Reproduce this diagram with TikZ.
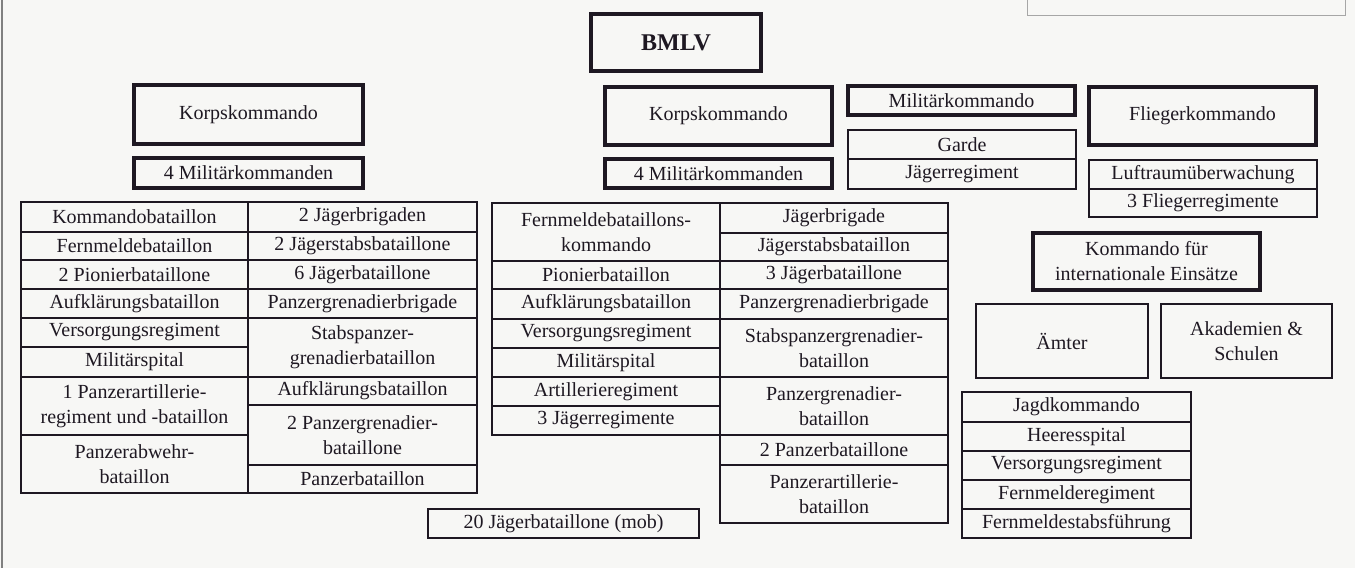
\documentclass[tikz,border=0pt]{standalone}
\usepackage{fontspec}
\setmainfont{Liberation Serif}

\definecolor{ink}{RGB}{30,24,34}
\definecolor{paper}{RGB}{247,247,245}
\tikzset{
  cell/.style={draw=ink, line width=0.9pt, inner sep=0pt, align=center,
    text=ink, font=\fontsize{10}{12.5}\selectfont},
  cmdbox/.style={cell, line width=2.4pt},
}
% name, x1, y1, x2, y2, text
\newcommand\orgcell[7][cell]{\node[#1, minimum width={(#5-#3)*0.5pt},
  minimum height={(#6-#4)*0.5pt}] (#2) at ({(#3+#5)/2},{(#4+#6)/2}) {#7};}

\begin{document}
\begin{tikzpicture}[x=0.5pt,y=-0.5pt]
\useasboundingbox[fill=paper] (0,0) rectangle (1355,568);
\draw[gray, line width=0.6pt] (2,0) -- (2,568); % page edge
\draw[gray!70, line width=0.5pt] (1027,0) -- (1027,15) -- (1345,15) -- (1345,0);

% top
\orgcell[cmdbox]{bmlv}{591}{14}{761}{71}{\fontsize{12}{14}\selectfont\bfseries BMLV}

% left corps
\orgcell[cmdbox]{korpsL}{134}{85}{363}{144}{Korpskommando}
\orgcell[cmdbox]{milL}{134}{158}{363}{188}{4 Militärkommanden}
\orgcell{kdobat}{21}{202}{248}{232}{Kommandobataillon}
\orgcell{fmbatL}{21}{232}{248}{260}{Fernmeldebataillon}
\orgcell{pibatL}{21}{260}{248}{289}{2 Pionierbataillone}
\orgcell{aufklL}{21}{289}{248}{318}{Aufklärungsbataillon}
\orgcell{versL}{21}{318}{248}{347}{Versorgungsregiment}
\orgcell{spitL}{21}{347}{248}{377}{Militärspital}
\orgcell{partL}{21}{377}{248}{435}{1 Panzerartillerie-\\regiment und -bataillon}
\orgcell{pzabw}{21}{435}{248}{493}{Panzerabwehr-\\bataillon}
\orgcell{jgbrigL}{248}{202}{477}{232}{2 Jägerbrigaden}
\orgcell{jgstabL}{248}{232}{477}{260}{2 Jägerstabsbataillone}
\orgcell{jgbatL}{248}{260}{477}{289}{6 Jägerbataillone}
\orgcell{pzgrbrigL}{248}{289}{477}{318}{Panzergrenadierbrigade}
\orgcell{stabpzL}{248}{318}{477}{377}{Stabspanzer-\\grenadierbataillon}
\orgcell{aufkl2L}{248}{377}{477}{405}{Aufklärungsbataillon}
\orgcell{pzgrbatL}{248}{405}{477}{465}{2 Panzergrenadier-\\bataillone}
\orgcell{pzbatL}{248}{465}{477}{493}{Panzerbataillon}
\orgcell{mob}{428}{509}{699}{538}{20 Jägerbataillone (mob)}

% middle corps
\orgcell[cmdbox]{korpsM}{605}{87}{832}{145}{Korpskommando}
\orgcell[cmdbox]{milM}{605}{159}{832}{188}{4 Militärkommanden}
\orgcell{fmkdo}{492}{203}{720}{261}{Fernmeldebataillons-\\kommando}
\orgcell{pibatM}{492}{261}{720}{289}{Pionierbataillon}
\orgcell{aufklM}{492}{289}{720}{319}{Aufklärungsbataillon}
\orgcell{versM}{492}{319}{720}{348}{Versorgungsregiment}
\orgcell{spitM}{492}{348}{720}{377}{Militärspital}
\orgcell{artregM}{492}{377}{720}{406}{Artillerieregiment}
\orgcell{jgregM}{492}{406}{720}{435}{3 Jägerregimente}
\orgcell{jgbrigM}{720}{203}{948}{233}{Jägerbrigade}
\orgcell{jgstabM}{720}{233}{948}{261}{Jägerstabsbataillon}
\orgcell{jgbatM}{720}{261}{948}{289}{3 Jägerbataillone}
\orgcell{pzgrbrigM}{720}{289}{948}{319}{Panzergrenadierbrigade}
\orgcell{stabpzM}{720}{319}{948}{377}{Stabspanzergrenadier-\\bataillon}
\orgcell{pzgrbatM}{720}{377}{948}{435}{Panzergrenadier-\\bataillon}
\orgcell{pzbatM}{720}{435}{948}{465}{2 Panzerbataillone}
\orgcell{partM}{720}{465}{948}{523}{Panzerartillerie-\\bataillon}

% Militaerkommando
\orgcell[cmdbox]{milkdo}{848}{86}{1075}{115}{Militärkommando}
\orgcell{garde}{848}{130}{1076}{159}{Garde}
\orgcell{jgreg}{848}{159}{1076}{189}{Jägerregiment}

% Fliegerkommando
\orgcell[cmdbox]{flieger}{1089}{87}{1316}{145}{Fliegerkommando}
\orgcell{luft}{1089}{160}{1317}{189}{Luftraumüberwachung}
\orgcell{flreg}{1089}{189}{1317}{217}{3 Fliegerregimente}

% Einsatz, Aemter, Schulen
\orgcell[cmdbox]{kie}{1033}{233}{1260}{290}{Kommando für\\internationale Einsätze}
\orgcell{aemter}{976}{304}{1148}{378}{Ämter}
\orgcell{akad}{1161}{304}{1332}{378}{Akademien \&\\Schulen}
\orgcell{jagd}{962}{392}{1191}{422}{Jagdkommando}
\orgcell{hspital}{962}{422}{1191}{451}{Heeresspital}
\orgcell{versR}{962}{451}{1191}{480}{Versorgungsregiment}
\orgcell{fmreg}{962}{480}{1191}{509}{Fernmelderegiment}
\orgcell{fmstab}{962}{509}{1191}{538}{Fernmeldestabsführung}
\end{tikzpicture}
\end{document}
